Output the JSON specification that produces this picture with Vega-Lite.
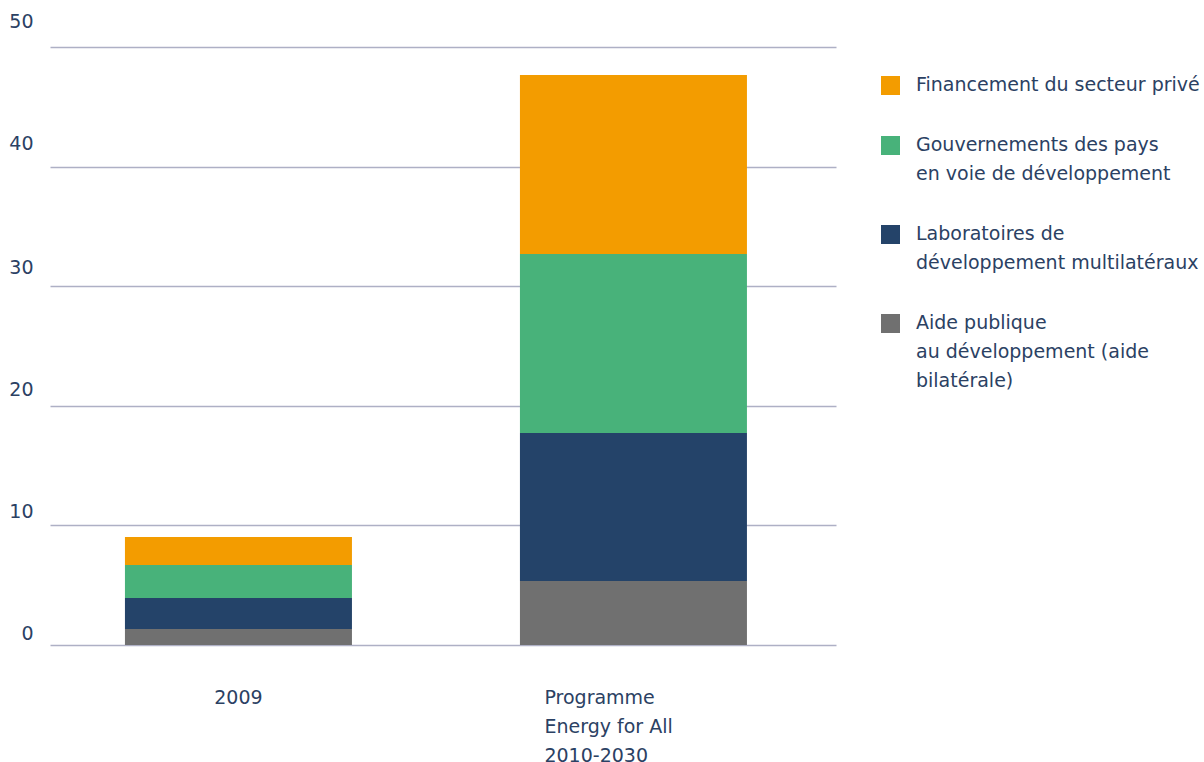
{
  "$schema": "https://vega.github.io/schema/vega-lite/v6.json",
  "width": 786,
  "height": 598,
  "autosize": {"type": "none"},
  "padding": {"left": 50, "top": 47, "right": 368, "bottom": 117},
  "background": "white",
  "config": {"view": {"stroke": null}, "font": "DejaVu Sans"},
  "data": {
    "values": [
      {"periode": "2009", "source": "Aide publique au développement (aide bilatérale)", "rang": 1, "milliards": 1.34},
      {"periode": "2009", "source": "Laboratoires de développement multilatéraux", "rang": 2, "milliards": 2.59},
      {"periode": "2009", "source": "Gouvernements des pays en voie de développement", "rang": 3, "milliards": 2.76},
      {"periode": "2009", "source": "Financement du secteur privé", "rang": 4, "milliards": 2.34},
      {"periode": "Programme Energy for All 2010-2030", "source": "Aide publique au développement (aide bilatérale)", "rang": 1, "milliards": 5.35},
      {"periode": "Programme Energy for All 2010-2030", "source": "Laboratoires de développement multilatéraux", "rang": 2, "milliards": 12.38},
      {"periode": "Programme Energy for All 2010-2030", "source": "Gouvernements des pays en voie de développement", "rang": 3, "milliards": 14.96},
      {"periode": "Programme Energy for All 2010-2030", "source": "Financement du secteur privé", "rang": 4, "milliards": 14.97}
    ]
  },
  "mark": {"type": "bar", "strokeWidth": 0},
  "encoding": {
    "x": {
      "field": "periode",
      "type": "nominal",
      "sort": null,
      "scale": {"paddingInner": 0.4253, "paddingOuter": 0.2076, "align": 0.457},
      "axis": {
        "title": null,
        "domain": false,
        "ticks": false,
        "tickSize": 0,
        "grid": false,
        "labelAngle": 0,
        "labelFont": "DejaVu Sans",
        "labelFontSize": 19,
        "labelColor": "#2b4163",
        "labelPadding": 58,
        "labelBaseline": "alphabetic",
        "labelLineHeight": 29,
        "labelOverlap": false,
        "labelExpr": "datum.value == '2009' ? '2009' : ['Programme', 'Energy for All', '2010-2030']",
        "labelAlign": {"condition": {"test": "datum.value == '2009'", "value": "center"}, "value": "left"},
        "labelOffset": {"condition": {"test": "datum.value == '2009'", "value": 0}, "value": -89}
      }
    },
    "y": {
      "field": "milliards",
      "type": "quantitative",
      "stack": "zero",
      "scale": {"domain": [0, 50], "nice": false},
      "axis": {
        "title": null,
        "domain": false,
        "ticks": false,
        "tickSize": 0,
        "values": [0, 10, 20, 30, 40, 50],
        "grid": true,
        "gridColor": "#aeb0c5",
        "gridWidth": 1.5,
        "labelFont": "DejaVu Sans",
        "labelFontSize": 19,
        "labelColor": "#2b4163",
        "labelPadding": 17,
        "labelAlign": "right",
        "labelBaseline": "alphabetic",
        "labelOffset": {
          "condition": [
            {"test": "datum.value == 50", "value": -20},
            {"test": "datum.value == 40", "value": -17},
            {"test": "datum.value == 30", "value": -13},
            {"test": "datum.value == 20", "value": -10},
            {"test": "datum.value == 10", "value": -8}
          ],
          "value": -6
        }
      }
    },
    "color": {
      "field": "source",
      "type": "nominal",
      "scale": {
        "domain": [
          "Financement du secteur privé",
          "Gouvernements des pays en voie de développement",
          "Laboratoires de développement multilatéraux",
          "Aide publique au développement (aide bilatérale)"
        ],
        "range": ["#f39c00", "#48b27a", "#244369", "#707070"]
      },
      "legend": {
        "orient": "none",
        "legendX": 831,
        "legendY": 29,
        "title": null,
        "symbolType": "square",
        "symbolSize": 361,
        "symbolStrokeWidth": 0,
        "symbolOpacity": 1,
        "labelFont": "DejaVu Sans",
        "labelFontSize": 19,
        "labelColor": "#2b4163",
        "labelLimit": 400,
        "labelOffset": 16,
        "rowPadding": 40,
        "labelBaseline": "alphabetic",
        "labelExpr": "datum.label == 'Gouvernements des pays en voie de développement' ? ['Gouvernements des pays', 'en voie de développement'] : datum.label == 'Laboratoires de développement multilatéraux' ? ['Laboratoires de', 'développement multilatéraux'] : datum.label == 'Aide publique au développement (aide bilatérale)' ? ['Aide publique', 'au développement (aide', 'bilatérale)'] : datum.label",
        "encode": {"labels": {"update": {"dy": {"value": 5}, "lineHeight": {"value": 29}}}}
      }
    },
    "order": {"field": "rang", "type": "quantitative"}
  }
}
